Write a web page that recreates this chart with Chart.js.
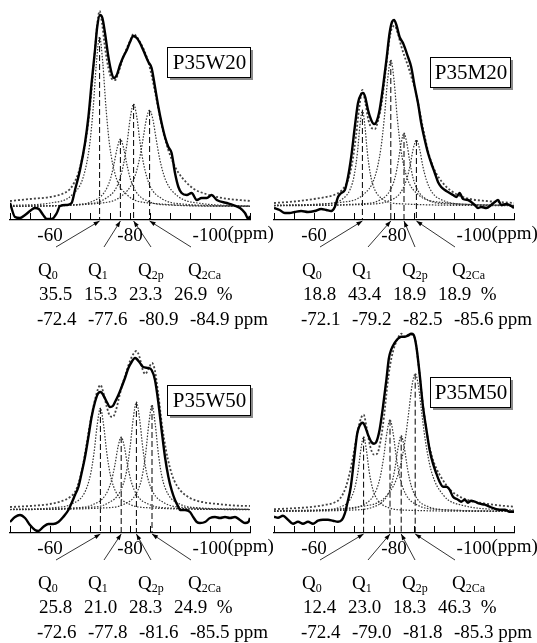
<!DOCTYPE html>
<html><head><meta charset="utf-8">
<script src="https://cdn.jsdelivr.net/npm/chart.js@4.4.0/dist/chart.umd.min.js"></script>
<style>
html,body{margin:0;padding:0;background:#fff;}
#wrap{position:relative;width:537px;height:643px;overflow:hidden;background:#fff;}
canvas{position:absolute;}
</style></head><body><div id="wrap">
<canvas id="c1" width="290" height="330" style="left:0px;top:0px"></canvas>
<canvas id="c2" width="273" height="330" style="left:264px;top:0px"></canvas>
<canvas id="c3" width="290" height="330" style="left:0px;top:313px"></canvas>
<canvas id="c4" width="273" height="330" style="left:264px;top:313px"></canvas>
</div>
<script>
// ---------- DATA ----------
const sampleNames = ['P35W20','P35M20','P35W50','P35M50'];
const qSubs = ['0','1','2p','2Ca'];
const tickLabels = [-60,-80,-100];
const axisMin = -110, axisMax = -50, tickStep = 5;

// P35W20
const w20_pos = [-72.4,-77.6,-80.9,-84.9];
const w20_h = [170,68,103,97];
const w20_pct = [35.5,15.3,23.3,26.9];
const w20_exp = [[-50,4],[-51.25,-10],[-52.5,-11],[-53.75,-8],[-55,-4],[-56.2,-1],[-57.2,-2],[-58.3,-8],[-59.2,-12],[-60.4,-12],[-61.7,-6],[-62.5,1],[-64.2,2],[-65.4,4],[-66.25,17],[-67.5,37],[-68.75,64],[-69.6,90],[-70.4,124],[-71.25,157],[-71.8,180],[-72.5,192],[-73.1,189],[-73.75,174],[-74.6,150],[-75.4,134],[-76,129],[-76.7,132],[-77.5,142],[-78.3,150],[-79.2,157],[-80,165],[-80.8,171],[-81.7,169],[-82.5,164],[-83.3,157],[-84.6,145],[-85.4,139],[-86.25,120],[-87.1,100],[-87.9,84],[-88.75,70],[-89.6,60],[-90.4,54],[-91.25,34],[-92.1,20],[-92.9,14],[-94.2,12],[-95.4,14],[-96.7,7],[-97.9,9],[-99.2,9],[-100.4,12],[-101.7,7],[-104.2,4],[-105.8,2],[-107.5,-1],[-108.75,-6],[-109.6,-12],[-110,-9]];
const w20_env = [[-50,6],[-55,8],[-60,10],[-63,13],[-65,18],[-66,24],[-67,33],[-68,48],[-69,68],[-70,100],[-71,145],[-71.8,182],[-72.4,196],[-73,184],[-73.8,158],[-74.6,139],[-75.5,128],[-76.3,127],[-77,133],[-78,146],[-79,157],[-80,166],[-80.9,173],[-81.7,170],[-82.5,165],[-83.5,157],[-84.5,146],[-85.5,130],[-86.5,110],[-87.5,90],[-88.5,72],[-89.5,58],[-90.5,47],[-92,35],[-94,25],[-96,18],[-99,13],[-103,9],[-110,6]];
const w20_q0 = [[-50,1.5],[-60.4,4.2],[-65.4,11.7],[-68.4,31],[-69.9,62],[-70.8,99],[-71.6,144],[-72.4,170],[-73.2,144],[-74.0,99],[-74.9,62],[-76.4,31],[-79.4,11.7],[-84.4,4.2],[-110,0.5]];
const w20_q1 = [[-50,0.6],[-65.6,2.0],[-70.6,5.6],[-73.6,14.7],[-75.1,28],[-76.0,43],[-76.8,59],[-77.6,68],[-78.4,59],[-79.2,43],[-80.1,28],[-81.6,14.7],[-84.6,5.6],[-89.6,2.0],[-110,0.6]];
const w20_q2p = [[-50,0.8],[-68.9,3.1],[-73.9,8.5],[-76.9,22],[-78.4,43],[-79.3,65],[-80.1,90],[-80.9,103],[-81.7,90],[-82.5,65],[-83.4,43],[-84.9,22],[-87.9,8.5],[-92.9,3.1],[-110,0.8]];
const w20_q2ca = [[-50,0.5],[-72.9,4.0],[-77.9,11],[-80.9,27],[-82.4,48.5],[-83.3,69],[-84.1,88],[-84.9,97],[-85.7,88],[-86.5,69],[-87.4,48.5],[-88.9,27],[-91.9,11],[-96.9,4.0],[-110,1.0]];

// P35M20
const m20_pos = [-72.1,-79.2,-82.5,-85.6];
const m20_h = [96,146,73,66];
const m20_pct = [18.8,43.4,18.9,18.9];
const m20_exp = [[-50,-2],[-51.4,-4],[-52.7,-7],[-53.9,-7],[-55.2,-6],[-56.8,-5],[-58.5,-6],[-60.2,-5],[-61.8,-3],[-63.1,-4],[-64.3,-5],[-65.2,-1],[-66,9],[-66.8,13],[-67.7,16],[-68.5,29],[-69.3,49],[-70.2,79],[-71,103],[-71.8,112],[-72.25,113],[-72.8,109],[-73.5,96],[-74.3,86],[-75,82],[-75.6,84],[-76.4,96],[-77.25,119],[-78.1,146],[-78.9,173],[-79.5,184],[-80,186],[-80.6,181],[-81.4,169],[-82.25,163],[-83.5,149],[-84.3,139],[-85.2,119],[-86,103],[-86.8,83],[-87.7,66],[-88.5,53],[-89.3,43],[-90.2,33],[-91,24],[-91.8,19],[-92.7,16],[-93.5,14],[-94.75,11],[-95.6,9],[-96.4,13],[-97.25,7],[-98.5,6],[-99.3,4],[-100.2,1],[-101,-2],[-101.8,-1],[-103.1,-2],[-104.3,1],[-105.2,4],[-106,6],[-106.8,1],[-108.1,2],[-109.3,0],[-110,-2]];
const m20_env = [[-50,3],[-55,4.5],[-60,7],[-63,9],[-65,11],[-67,16],[-68.5,26],[-69.5,42],[-70.5,70],[-71.3,98],[-72.1,116],[-72.8,104],[-73.6,86],[-74.4,78],[-75.2,77],[-76,85],[-77,105],[-78,138],[-78.8,165],[-79.5,178],[-80.2,180],[-81,172],[-81.8,160],[-82.6,150],[-83.5,140],[-84.5,127],[-85.5,113],[-86.5,93],[-87.5,73],[-88.5,55],[-89.5,42],[-90.5,33],[-92,24],[-94,16],[-96,11],[-99,7],[-103,5],[-110,3]];
const m20_q0 = [[-50,0.5],[-63.1,2.3],[-67.1,7.0],[-69.1,17.2],[-70.1,31.6],[-70.9,55],[-71.5,81],[-72.1,96],[-72.7,81],[-73.3,55],[-74.1,31.6],[-75.1,17.2],[-77.1,7.0],[-81.1,2.3],[-110,0.3]];
const m20_q1 = [[-50,0.7],[-67.2,3.9],[-72.2,11],[-75.2,29],[-76.7,57],[-77.6,89],[-78.4,126],[-79.2,146],[-80.0,126],[-80.8,89],[-81.7,57],[-83.2,29],[-86.2,11],[-91.2,3.9],[-110,0.6]];
const m20_q2p = [[-50,0.4],[-72.5,2.3],[-76.5,6.0],[-79.0,15.3],[-80.3,29],[-81.1,45.5],[-81.8,63],[-82.5,73],[-83.2,63],[-83.9,45.5],[-84.7,29],[-86.0,15.3],[-88.5,6.0],[-92.5,2.3],[-110,0.5]];
const m20_q2ca = [[-50,0.3],[-73.6,1.8],[-78.6,5.0],[-81.6,13.2],[-83.1,26],[-84.0,40],[-84.8,57],[-85.6,66],[-86.4,57],[-87.2,40],[-88.1,26],[-89.6,13.2],[-92.6,5.0],[-97.6,1.8],[-110,0.6]];

// P35W50
const w50_pos = [-72.6,-77.8,-81.6,-85.5];
const w50_h = [102,73,108,105];
const w50_pct = [25.8,21.0,28.3,24.9];
const w50_exp = [[-50,-12],[-51.25,-7],[-52.5,-5],[-53.75,-8],[-55,-15],[-56.25,-20],[-57.1,-21],[-58.3,-17],[-59.6,-14],[-60.8,-14],[-62.1,-12],[-63.3,-7],[-64.6,0],[-65.4,7],[-66.25,15],[-67.1,23],[-67.9,37],[-68.75,53],[-69.6,73],[-70.4,93],[-71.25,108],[-72.1,117],[-72.7,118],[-73.3,115],[-74.2,108],[-75,103],[-75.7,104],[-76.25,108],[-77.1,115],[-77.9,123],[-78.75,132],[-79.6,142],[-80.4,148],[-81.25,152],[-81.7,151],[-82.5,147],[-83.3,143],[-84.6,142],[-85.4,140],[-86.25,130],[-87.1,107],[-87.9,80],[-88.75,53],[-89.6,33],[-90.4,20],[-91.25,10],[-92.1,3],[-92.5,0],[-93.75,0],[-95,-2],[-95.8,-7],[-96.7,-12],[-97.5,-13],[-98.75,-12],[-100,-8],[-101.25,-7],[-102.5,-8],[-103.75,-7],[-105,-8],[-106.25,-7],[-107.5,-10],[-108.75,-13],[-109.6,-12],[-110,-8]];
const w50_env = [[-50,3],[-55,4],[-60,6],[-63,9],[-65,13],[-66.5,20],[-68,40],[-69,62],[-70,86],[-71,106],[-72,121],[-72.6,125],[-73.3,118],[-74.2,103],[-75,94],[-75.7,93],[-76.5,100],[-77.3,113],[-78,124],[-79,137],[-80,149],[-81,157],[-81.6,159],[-82.3,154],[-83.2,140],[-83.8,136],[-84.6,141],[-85.5,147],[-86.2,140],[-87,118],[-88,85],[-89,60],[-90,42],[-91,30],[-92.5,20],[-95,12],[-98,8],[-102,6],[-106,4.5],[-110,4]];
const w50_q0 = [[-50,0.5],[-60.6,2.2],[-65.6,6.3],[-68.6,17],[-70.1,35],[-71.0,57],[-71.8,85],[-72.6,102],[-73.4,85],[-74.2,57],[-75.1,35],[-76.6,17],[-79.6,6.3],[-84.6,2.2],[-110,0.3]];
const w50_q1 = [[-50,0.5],[-65.8,2.0],[-70.8,5.5],[-73.8,14.6],[-75.3,28.5],[-76.2,44.5],[-77.0,63],[-77.8,73],[-78.6,63],[-79.4,44.5],[-80.3,28.5],[-81.8,14.6],[-84.8,5.5],[-89.8,2.0],[-110,0.5]];
const w50_q2p = [[-50,0.5],[-69.6,2.5],[-74.6,7.1],[-77.6,19],[-79.1,38],[-80.0,62],[-80.8,91],[-81.6,108],[-82.4,91],[-83.2,62],[-84.1,38],[-85.6,19],[-88.6,7.1],[-93.6,2.5],[-110,0.6]];
const w50_q2ca = [[-50,0.3],[-73.5,2.1],[-78.5,5.8],[-81.5,16],[-83.0,33],[-83.9,56],[-84.7,86],[-85.5,105],[-86.3,86],[-87.1,56],[-88.0,33],[-89.5,16],[-92.5,5.8],[-97.5,2.1],[-110,0.6]];

// P35M50
const m50_pos = [-72.4,-79.0,-81.8,-85.3];
const m50_h = [75,92,76,138];
const m50_pct = [12.4,23.0,18.3,46.3];
const m50_exp = [[-50,-5],[-51,-6],[-52.25,-4],[-53.5,-8],[-54.75,-12],[-56,-10],[-57.25,-12],[-58.5,-10],[-59.75,-12],[-61,-9],[-62.25,-8],[-63.5,-8],[-64.75,-9],[-66,-10],[-67,-8],[-67.7,-2],[-68.3,8],[-69.2,25],[-70,52],[-70.8,78],[-71.7,88],[-72.25,89],[-72.8,85],[-73.5,77],[-74.3,70],[-75,68],[-75.6,70],[-76.4,82],[-77.25,105],[-78.1,132],[-78.7,153],[-79.3,162],[-80.2,169],[-81,173],[-81.8,175],[-82.7,175],[-83.5,176],[-84.3,178],[-84.9,177],[-85.6,165],[-86.4,138],[-87.25,105],[-88.1,82],[-88.9,62],[-89.75,48],[-90.6,38],[-91.4,30],[-92.25,25],[-93.1,25],[-93.9,22],[-94.75,15],[-96,12],[-96.8,10],[-97.7,12],[-98.5,9],[-99.3,11],[-100.2,10],[-101.4,8],[-102.7,7],[-103.9,5],[-105.2,3],[-106.4,2],[-107.7,2],[-108.9,0],[-110,0]];
const m50_env = [[-50,2.5],[-55,3.5],[-60,5],[-63,7],[-65,9],[-66.5,13],[-68,25],[-69,40],[-70,60],[-71,82],[-71.8,94],[-72.4,97],[-73.2,83],[-74,66],[-75,57],[-75.8,58],[-76.6,70],[-77.5,95],[-78.3,125],[-79,146],[-79.8,161],[-80.8,172],[-81.8,178],[-82.7,175],[-83.6,177],[-84.5,177],[-85.3,172],[-86,152],[-86.8,122],[-87.6,96],[-88.5,72],[-89.5,55],[-90.5,44],[-92,33],[-94,22],[-96,16],[-99,11],[-103,8],[-107,6],[-110,5]];
const m50_q0 = [[-50,0.4],[-62.4,1.65],[-66.4,4.4],[-68.9,11.6],[-70.1,22.4],[-71.0,40],[-71.7,61.6],[-72.4,75],[-73.1,61.6],[-73.8,40],[-74.7,22.4],[-75.9,11.6],[-78.4,4.4],[-82.4,1.65],[-110,0.2]];
const m50_q1 = [[-50,0.5],[-67.0,2.3],[-72.0,6.3],[-75.0,17],[-76.5,33.7],[-77.4,54],[-78.2,78],[-79.0,92],[-79.8,78],[-80.6,54],[-81.5,33.7],[-83.0,17],[-86.0,6.3],[-91.0,2.3],[-110,0.5]];
const m50_q2p = [[-50,0.4],[-69.8,1.7],[-74.8,4.7],[-77.8,12.8],[-79.3,26],[-80.2,42.5],[-81.0,63.5],[-81.8,76],[-82.6,63.5],[-83.4,42.5],[-84.3,26],[-85.8,12.8],[-88.8,4.7],[-93.8,1.7],[-110,0.5]];
const m50_q2ca = [[-50,0.75],[-73.3,6.2],[-78.3,16.7],[-81.3,41],[-82.8,72],[-83.7,100],[-84.5,126],[-85.3,138],[-86.1,126],[-86.9,100],[-87.8,72],[-89.3,41],[-92.3,16.7],[-97.3,6.2],[-110,1.5]];

// ---------- LAYOUT ----------
const FONT = '"Liberation Serif", "Times New Roman", serif';
const AXIS_Y = 220, AXIS_H = 30, PLOT_L = 10, PLOT_R = 250;
const qX = [38, 88, 138, 188];
const pctX = [39, 84, 129, 174];
const ppmX = [37, 88, 139, 190];
const arrowOff = [18, 16, 13, 3];

const panels = [
  {id:'c1', name:sampleNames[0], exp:w20_exp, env:w20_env, comps:[w20_q0,w20_q1,w20_q2p,w20_q2ca], pos:w20_pos, h:w20_h, pct:w20_pct, ymin:-13, ymax:202, box:[167,47,83,30]},
  {id:'c2', name:sampleNames[1], exp:m20_exp, env:m20_env, comps:[m20_q0,m20_q1,m20_q2p,m20_q2ca], pos:m20_pos, h:m20_h, pct:m20_pct, ymin:-14, ymax:201, box:[166,57,80,30]},
  {id:'c3', name:sampleNames[2], exp:w50_exp, env:w50_env, comps:[w50_q0,w50_q1,w50_q2p,w50_q2ca], pos:w50_pos, h:w50_h, pct:w50_pct, ymin:-23, ymax:192, box:[167,72,83,30]},
  {id:'c4', name:sampleNames[3], exp:m50_exp, env:m50_env, comps:[m50_q0,m50_q1,m50_q2p,m50_q2ca], pos:m50_pos, h:m50_h, pct:m50_pct, ymin:-21.3, ymax:193.7, box:[166,64,80,30]}
];

const overlay = {
  id: 'overlay',
  afterDraw(chart, args, opts) {
    const p = opts.panel;
    const ctx = chart.ctx, xs = chart.scales.x, ca = chart.chartArea;
    const ay = ca.bottom;
    ctx.save();
    // upward ticks
    ctx.strokeStyle = '#000'; ctx.lineWidth = 1; ctx.setLineDash([]);
    xs.ticks.forEach(t => {
      const px = Math.round(xs.getPixelForValue(t.value)) + 0.5;
      ctx.beginPath(); ctx.moveTo(px, ay); ctx.lineTo(px, ay - 7); ctx.stroke();
    });
    // (ppm) after -100
    ctx.fillStyle = '#000';
    ctx.font = '19px ' + FONT;
    ctx.textBaseline = 'top'; ctx.textAlign = 'left';
    const last = tickLabels[tickLabels.length - 1];
    const lx = xs.getPixelForValue(last) + ctx.measureText(String(last)).width / 2;
    ctx.fillText('(ppm)', lx, ay + 5);
    // sample box
    const [bx, by, bw, bh] = p.box;
    ctx.fillStyle = '#8a8a8a'; ctx.fillRect(bx + 3, by + 3, bw, bh);
    ctx.fillStyle = '#fff'; ctx.fillRect(bx, by, bw, bh);
    ctx.strokeStyle = '#000'; ctx.lineWidth = 1; ctx.strokeRect(bx + 0.5, by + 0.5, bw, bh);
    ctx.fillStyle = '#000'; ctx.font = '21px ' + FONT;
    ctx.textAlign = 'center'; ctx.textBaseline = 'middle';
    ctx.fillText(p.name, bx + bw / 2 + 1, by + bh / 2 + 1);
    // arrows
    ctx.lineWidth = 0.8; ctx.strokeStyle = '#000';
    p.pos.forEach((v, i) => {
      const sx = qX[i] + arrowOff[i], sy = ay + 27;
      const ex = xs.getPixelForValue(v), ey = ay + 1;
      ctx.beginPath(); ctx.moveTo(sx, sy); ctx.lineTo(ex, ey); ctx.stroke();
      const a = Math.atan2(ey - sy, ex - sx), L = 6, Wd = 2.2;
      ctx.beginPath();
      ctx.moveTo(ex, ey);
      ctx.lineTo(ex - L * Math.cos(a) + Wd * Math.sin(a), ey - L * Math.sin(a) - Wd * Math.cos(a));
      ctx.lineTo(ex - L * Math.cos(a) - Wd * Math.sin(a), ey - L * Math.sin(a) + Wd * Math.cos(a));
      ctx.closePath(); ctx.fill();
    });
    // text rows
    ctx.textAlign = 'left'; ctx.textBaseline = 'alphabetic';
    qSubs.forEach((s, i) => {
      ctx.font = '19px ' + FONT;
      ctx.fillText('Q', qX[i], ay + 56);
      const w = ctx.measureText('Q').width;
      ctx.font = '12px ' + FONT;
      ctx.fillText(s, qX[i] + w, ay + 59);
    });
    ctx.font = '19px ' + FONT;
    p.pct.forEach((v, i) => {
      ctx.fillText(v.toFixed(1) + (i === p.pct.length - 1 ? '  %' : ''), pctX[i], ay + 80);
    });
    p.pos.forEach((v, i) => {
      ctx.fillText(v.toFixed(1) + (i === p.pos.length - 1 ? ' ppm' : ''), ppmX[i], ay + 105);
    });
    ctx.restore();
  }
};

const toXY = arr => arr.map(([x, y]) => ({x, y}));

panels.forEach(p => {
  const canvas = document.getElementById(p.id);
  const W = canvas.width, H = canvas.height;
  const ds = [];
  ds.push({data: toXY(p.exp), borderColor: '#000', borderWidth: 2.4, pointRadius: 0, cubicInterpolationMode: 'monotone', fill: false});
  ds.push({data: toXY(p.env), borderColor: '#444', borderWidth: 1.8, borderDash: [2, 2], pointRadius: 0, cubicInterpolationMode: 'monotone', fill: false});
  p.comps.forEach(c => ds.push({data: toXY(c), borderColor: '#333', borderWidth: 1.2, borderDash: [1.5, 1.5], pointRadius: 0, cubicInterpolationMode: 'monotone', fill: false}));
  p.pos.forEach((x, i) => ds.push({data: [{x: x, y: p.h[i]}, {x: x, y: p.ymin}], borderColor: '#000', borderWidth: 1, borderDash: [6, 3], pointRadius: 0, tension: 0, fill: false}));
  new Chart(canvas, {
    type: 'line',
    data: {datasets: ds},
    plugins: [overlay],
    options: {
      responsive: false, animation: false, devicePixelRatio: 1,
      layout: {padding: {left: PLOT_L, right: W - PLOT_R, top: 5, bottom: H - AXIS_Y - AXIS_H}},
      plugins: {legend: {display: false}, tooltip: {enabled: false}, overlay: {panel: p}},
      scales: {
        x: {
          type: 'linear', min: axisMin, max: axisMax, reverse: true,
          afterFit: s => { s.height = AXIS_H; },
          grid: {display: true, drawOnChartArea: false, drawTicks: false},
          border: {display: true, color: '#000', width: 1.2},
          ticks: {stepSize: tickStep, autoSkip: false, maxRotation: 0, minRotation: 0, padding: 5, color: '#000',
                  font: {family: FONT, size: 19},
                  callback: v => tickLabels.includes(v) ? String(v) : ''}
        },
        y: {type: 'linear', display: false, min: p.ymin, max: p.ymax}
      }
    }
  });
});
</script>
</body></html>
